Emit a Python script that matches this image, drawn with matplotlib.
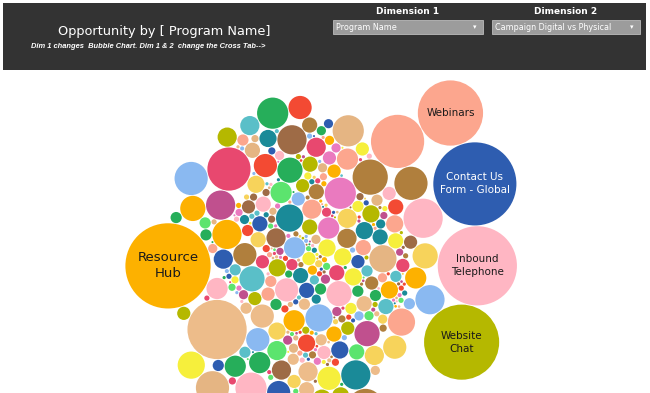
import math

import matplotlib.pyplot as plt
from matplotlib.patches import Circle, Rectangle

# Named programs (largest opportunity)
hub_name = "Resource\nHub"
hub_value = 1850
hub_color = "#FDB100"

chain_programs = ["Webinars", "Contact Us\nForm - Global", "Inbound\nTelephone", "Website\nChat"]
chain_values = [1090, 1760, 1600, 1440]
chain_colors = ["#FCA68E", "#2E5DB0", "#FFB6C3", "#B5B800"]
chain_text_colors = ["#1a1a1a", "white", "#1a1a1a", "#1a1a1a"]

# Unnamed programs (opportunity per program)
other_values = [
    36, 9, 64, 4, 121, 16, 49, 9, 25, 81, 4, 144, 16, 36, 9, 64, 25, 4, 100, 16,
    4, 2, 9, 3, 6, 2, 4, 9, 2, 3, 6, 4, 2, 9, 3, 4, 6, 2, 4, 3,
    49, 9, 196, 25, 4, 36, 81, 16, 9, 64, 121, 4, 25, 49, 16, 9, 169, 36, 4, 64,
    64, 144, 25, 9, 196, 36, 81, 16, 121, 49, 4, 169, 25, 100, 9, 64, 36, 144, 16, 81,
    25, 100, 9, 16, 49, 4, 81, 36, 225, 16, 9, 64, 25, 4, 121, 49, 9, 36, 16, 100,
    3, 6, 2, 4, 9, 2, 3, 4, 6, 2, 9, 4, 3, 2, 6, 4, 9, 3, 2, 4,
    4, 64, 25, 9, 144, 36, 16, 81, 4, 49, 256, 9, 25, 64, 16, 100, 4, 36, 49, 9,
    900, 16, 81, 25, 4, 169, 36, 9, 64, 49, 16, 121, 4, 25, 100, 9, 36, 64, 16, 81,
    2, 4, 9, 3, 6, 4, 2, 3, 9, 6, 2, 4, 3, 9, 2, 6, 4, 3, 2, 9,
    9, 49, 4, 196, 25, 36, 16, 144, 9, 64, 4, 49, 225, 16, 25, 81, 9, 36, 100, 4,
    484, 16, 64, 25, 9, 121, 36, 4, 49, 81, 16, 9, 169, 25, 64, 4, 36, 100, 16, 49,
    6, 3, 2, 9, 4, 2, 6, 3, 4, 9, 2, 3, 6, 4, 2, 9, 3, 6, 4, 2,
    9, 324, 25, 64, 4, 36, 144, 16, 81, 9, 49, 25, 4, 121, 36, 16, 64, 9, 225, 25,
    100, 16, 225, 36, 9, 121, 64, 4, 169, 49, 25, 256, 16, 81, 9, 144, 36, 64, 4, 100,
    49, 4, 81, 16, 289, 36, 9, 64, 25, 100, 4, 49, 16, 196, 9, 36, 81, 25, 4, 144,
    4, 9, 2, 3, 6, 4, 2, 9, 3, 4, 6, 2, 3, 4, 9, 2, 6, 3, 4, 2,
    16, 64, 9, 256, 36, 25, 49, 4, 121, 81, 16, 9, 324, 36, 64, 25, 100, 4, 49, 169,
]
edge_values = [400, 289, 729, 289, 225, 256, 196, 144, 121, 100]

palette = [
    "#E8486F", "#B07F3D", "#1A8A98", "#E5B583", "#8AB9F1", "#26AE5A", "#F6EF3C",
    "#F34A33", "#FDB100", "#B5B800", "#EA7ABF", "#FFB6C3", "#C0508E", "#FCA68E",
    "#5CE46E", "#2E5DB0", "#5ABFC8", "#EDBC8A", "#9E6B46", "#F7D35B",
]
# colours of the biggest unnamed programs
big_colors = {900: "#EDBC8A", 729: "#FCA68E", 484: "#E8486F", 400: "#FFB6C3", 324: "#B07F3D"}

STRETCH = 1.5           # pack grows taller than wide
CHAIN_START_DEG = -46   # where the big right-hand bubbles start, around the pack


def place(b, a, c):
    dx, dy = b[0] - a[0], b[1] - a[1]
    d2 = dx * dx + dy * dy
    if d2:
        a2 = (a[2] + c[2]) ** 2
        b2 = (b[2] + c[2]) ** 2
        if a2 > b2:
            x = (d2 + b2 - a2) / (2 * d2)
            y = math.sqrt(max(0, b2 / d2 - x * x))
            c[0] = b[0] - x * dx - y * dy
            c[1] = b[1] - x * dy + y * dx
        else:
            x = (d2 + a2 - b2) / (2 * d2)
            y = math.sqrt(max(0, a2 / d2 - x * x))
            c[0] = a[0] + x * dx - y * dy
            c[1] = a[1] + x * dy + y * dx
    else:
        c[0] = a[0] + c[2]
        c[1] = a[1]


def intersects(a, b):
    dr = a[2] + b[2] - 1e-6
    dx, dy = b[0] - a[0], b[1] - a[1]
    return dr > 0 and dr * dr > dx * dx + dy * dy


def score(n, nxt, circles):
    a, b = circles[n], circles[nxt[n]]
    ab = a[2] + b[2]
    x = (a[0] * b[2] + b[0] * a[2]) / ab
    y = (a[1] * b[2] + b[1] * a[2]) / ab
    return STRETCH * x * x + y * y


def pack(radii):
    # front-chain circle packing (same idea as d3.packSiblings)
    circles = [[0.0, 0.0, r] for r in radii]
    n = len(circles)
    circles[0][0] = -circles[1][2]
    circles[1][0] = circles[0][2]
    place(circles[1], circles[0], circles[2])
    nxt = {0: 1, 1: 2, 2: 0}
    prv = {1: 0, 2: 1, 0: 2}
    a, b = 0, 1
    i = 3
    while i < n:
        c = circles[i]
        place(circles[a], circles[b], c)
        j, k = nxt[b], prv[a]
        sj, sk = circles[b][2], circles[a][2]
        hit = False
        while True:
            if sj <= sk:
                if intersects(circles[j], c):
                    b = j
                    nxt[a], prv[b] = b, a
                    hit = True
                    break
                sj += circles[j][2]
                j = nxt[j]
            else:
                if intersects(circles[k], c):
                    a = k
                    nxt[a], prv[b] = b, a
                    hit = True
                    break
                sk += circles[k][2]
                k = prv[k]
            if j == nxt[k]:
                break
        if hit:
            continue
        prv[i], nxt[i] = a, b
        nxt[a] = i
        prv[b] = i
        b = i
        best, aa = a, score(a, nxt, circles)
        m = nxt[i]
        while m != b:
            ca = score(m, nxt, circles)
            if ca < aa:
                best, aa = m, ca
            m = nxt[m]
        a = best
        b = nxt[a]
        i += 1
    return circles


def collides(x, y, r, placed):
    for p in placed:
        if (p[0] - x) ** 2 + (p[1] - y) ** 2 < (p[2] + r - 0.01) ** 2:
            return True
    return False


def attach_chain(placed, radii, start_deg, cx, cy):
    # first bubble slides in along a ray until it touches the pack,
    # each next one rolls clockwise round the previous until it touches something
    out = []
    ux, uy = math.cos(math.radians(start_deg)), math.sin(math.radians(start_deg))
    r = radii[0]
    t = 0.0
    for p in placed:
        fx, fy = cx - p[0], cy - p[1]
        bq = fx * ux + fy * uy
        cq = fx * fx + fy * fy - (p[2] + r) ** 2
        disc = bq * bq - cq
        if disc >= 0:
            t = max(t, -bq + math.sqrt(disc))
    out.append([cx + t * ux, cy + t * uy, r])
    for r in radii[1:]:
        px, py, pr = out[-1]
        phi = math.atan2(py - cy, px - cx)
        last = None
        for _ in range(1440):
            x = px + (pr + r) * math.cos(phi)
            y = py + (pr + r) * math.sin(phi)
            if collides(x, y, r, placed + out):
                break
            last = [x, y, r]
            phi += math.radians(0.25)
        out.append(last)
    return out


def build(pos):
    vals = other_values[:pos] + [hub_value] + other_values[pos:] + edge_values
    circ = pack([math.sqrt(v) for v in vals])
    rest = circ[:pos] + circ[pos + 1:]
    x0 = min(c[0] - c[2] for c in rest)
    x1 = max(c[0] + c[2] for c in rest)
    y0 = min(c[1] - c[2] for c in rest)
    y1 = max(c[1] + c[2] for c in rest)
    return circ, (x0 + x1) / 2, (y0 + y1) / 2, (x1 - x0) / 2


# pick where Resource Hub enters the packing order so it lands on a side of the pack
best = None
for pos in range(len(other_values) // 4, len(other_values) * 4 // 5, 3):
    circ, cx, cy, hw = build(pos)
    hx, hy = circ[pos][0] - cx, circ[pos][1] - cy
    s = 2 * abs(hy - 15) + abs(abs(hx) - hw - 15)
    if best is None or s < best[0]:
        best = (s, pos)
hub_pos = best[1]
circles, cx, cy, hw = build(hub_pos)
flip = -1 if circles[hub_pos][0] > cx else 1
pts = [[(c[0] - cx) * flip, c[1] - cy, c[2]] for c in circles]

inner_values = other_values + edge_values
colors = [big_colors.get(v, palette[i % len(palette)]) for i, v in enumerate(inner_values)]
colors.insert(hub_pos, hub_color)

chain = attach_chain(pts, [math.sqrt(v) for v in chain_values], CHAIN_START_DEG, 0.0, 0.0)
allc = pts + chain

xmin = min(p[0] - p[2] for p in allc)
ymin = min(p[1] - p[2] for p in allc)

fig = plt.figure(figsize=(6.5, 3.93), dpi=100)
ax = fig.add_axes([0, 0, 1, 1])
ax.set_xlim(0, 650)
ax.set_ylim(393, 0)
ax.axis("off")

# put the bubble group under the header (pixel units)
ox = 125 - xmin
oy = 80 - ymin
for p, col in zip(pts, colors):
    ax.add_patch(Circle((p[0] + ox, p[1] + oy), p[2] - 0.4, facecolor=col, edgecolor="none"))
for p, col in zip(chain, chain_colors):
    ax.add_patch(Circle((p[0] + ox, p[1] + oy), p[2] - 0.4, facecolor=col, edgecolor="none"))

p = pts[hub_pos]
ax.text(p[0] + ox, p[1] + oy, hub_name, ha="center", va="center", color="#1a1a1a",
        fontsize=9.5, linespacing=1.3)
for p, lab, tc in zip(chain, chain_programs, chain_text_colors):
    ax.text(p[0] + ox, p[1] + oy, lab, ha="center", va="center", color=tc,
            fontsize=7.5, linespacing=1.4)

# header band
ax.add_patch(Rectangle((3, 3), 643, 67, facecolor="#333333", edgecolor="none"))
ax.text(164, 31, "Opportunity by [ Program Name]", color="white", fontsize=9.3,
        ha="center", va="center")
ax.text(148, 46, "Dim 1 changes  Bubble Chart. Dim 1 & 2  change the Cross Tab-->",
        color="white", fontsize=5.4, style="italic", fontweight="bold",
        family="Liberation Sans", ha="center", va="center")
for x0, w, title, sel in [(333, 150, "Dimension 1", "Program Name"),
                          (492, 148, "Dimension 2", "Campaign Digital vs Physical")]:
    ax.text(x0 + w / 2, 12, title, color="white", fontsize=6.5, fontweight="bold",
            ha="center", va="center")
    ax.add_patch(Rectangle((x0, 20), w, 14, facecolor="#9C9C9C", edgecolor="#BBBBBB", lw=0.6))
    ax.text(x0 + 3, 27, sel, color="white", fontsize=5.8, ha="left", va="center")
    ax.text(x0 + w - 8, 27, "\u25BE", color="white", fontsize=5, ha="center", va="center")

fig.savefig("out.png", dpi=100)
